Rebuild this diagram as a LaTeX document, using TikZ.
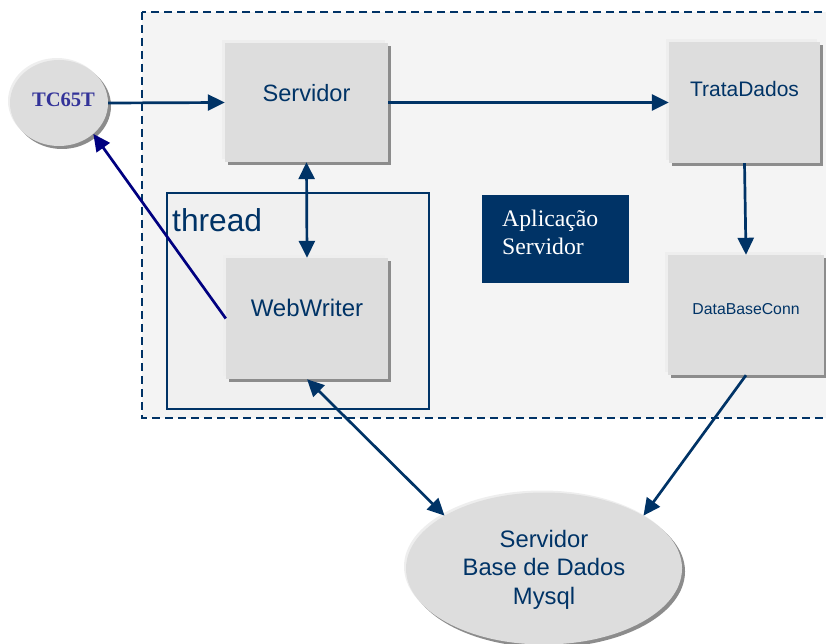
\documentclass[tikz,border=0pt]{standalone}
\usepackage{fontspec}
\setmainfont{Liberation Serif}
\newfontfamily\arialfont{Liberation Sans}
\usetikzlibrary{arrows.meta,shadows,shapes.geometric}

\definecolor{navy}{HTML}{003366}
\definecolor{linkblue}{HTML}{000080}
\definecolor{tcviolet}{HTML}{333399}
\definecolor{boxgray}{HTML}{DDDDDD}
\definecolor{shadegray}{HTML}{8C8C8C}
\definecolor{lightedge}{HTML}{EEEEEE}
\definecolor{panel}{HTML}{F4F4F4}
\definecolor{threadfill}{HTML}{F0F0F0}

\tikzset{
  module/.style={rectangle, fill=boxgray, draw=none, inner sep=0pt,
    general shadow={shadow xshift=-3pt, shadow yshift=3pt, fill=lightedge},
    general shadow={shadow xshift=3pt, shadow yshift=-3pt, fill=shadegray}},
  bubble/.style={ellipse, fill=boxgray, draw=none, inner sep=0pt,
    general shadow={shadow xshift=-2pt, shadow yshift=2pt, fill=lightedge},
    general shadow={shadow xshift=3pt, shadow yshift=-3pt, fill=shadegray}},
  modtext/.style={text=navy, font=\arialfont, inner sep=0pt},
  tip/.tip={Triangle[length=17pt,width=16pt]},
  link/.style={draw=navy, line width=2.7pt, -tip},
  duplex/.style={draw=navy, line width=2.7pt, tip-tip},
}

\begin{document}
\begin{tikzpicture}[x=1pt,y=-1pt]
\useasboundingbox (0,0) rectangle (826,644);

% server application area
\draw[fill=panel, draw=navy, line width=1.9pt, dash pattern=on 8pt off 5pt]
  (142,12) rectangle (830,418);

% thread frame
\node[draw=navy, fill=threadfill, line width=1.7pt, rectangle, inner sep=0pt,
      minimum width=262pt, minimum height=216pt] (thr) at (298,301) {};
\node[modtext, anchor=base west, font=\arialfont\fontsize{31.7}{34}\selectfont]
  (thrlbl) at (172,232) {thread};

% title block
\node[fill=navy, rectangle, inner sep=0pt, minimum width=147pt, minimum height=88pt]
  (app) at (555.5,239) {};
\node[anchor=base west, text=white, align=left, inner sep=0pt,
      font=\fontsize{23.7}{28}\selectfont] (applbl) at (502,254.5)
  {Aplicação\\Servidor};

% modules
\node[module, minimum width=163pt, minimum height=119pt] (srv) at (306.5,102.5) {};
\node[modtext, font=\arialfont\fontsize{23.6}{28}\selectfont] (srvlbl)
  at ([yshift=9.5pt]srv.center) {Servidor};

\node[module, minimum width=151pt, minimum height=121pt] (trd) at (744.5,102.5) {};
\node[modtext, font=\arialfont\fontsize{21}{25}\selectfont] (trdlbl)
  at ([yshift=14pt]trd.center) {TrataDados};

\node[module, minimum width=162pt, minimum height=121pt] (ww) at (307,318.5) {};
\node[modtext, font=\arialfont\fontsize{24}{28}\selectfont] (wwlbl)
  at ([yshift=10.5pt]ww.center) {WebWriter};

\node[module, minimum width=156pt, minimum height=120pt] (dbc) at (746,315) {};
\node[modtext, font=\arialfont\fontsize{15.8}{19}\selectfont] (dbclbl)
  at ([yshift=6pt]dbc.center) {DataBaseConn};

% end points
\node[bubble, minimum width=98pt, minimum height=86pt] (tc) at (59,103) {};
\node[text=tcviolet, inner sep=0pt, font=\bfseries\fontsize{20.6}{24}\selectfont]
  (tclbl) at (63.5,99.5) {TC65T};

\node[bubble, minimum width=276pt, minimum height=152pt] (db) at (544,568.5) {};
\node[modtext, align=center, font=\arialfont\fontsize{23.8}{28.5}\selectfont]
  (dblbl) at (544,569.5) {Servidor\\Base de Dados\\Mysql};

% connectors
\draw[link] (tc.east) -- (srv.west);
\draw[link] (srv.east) -- (trd.west);
\draw[link] (trd.south) -- (dbc.north);
\draw[duplex] (srv.south) -- (ww.north);
\draw[link, draw=linkblue] (ww.west) -- (tc.-42);
\draw[duplex] (ww.south) -- (db.152);
\draw[link] (dbc.south) -- (db.28);
\end{tikzpicture}
\end{document}
